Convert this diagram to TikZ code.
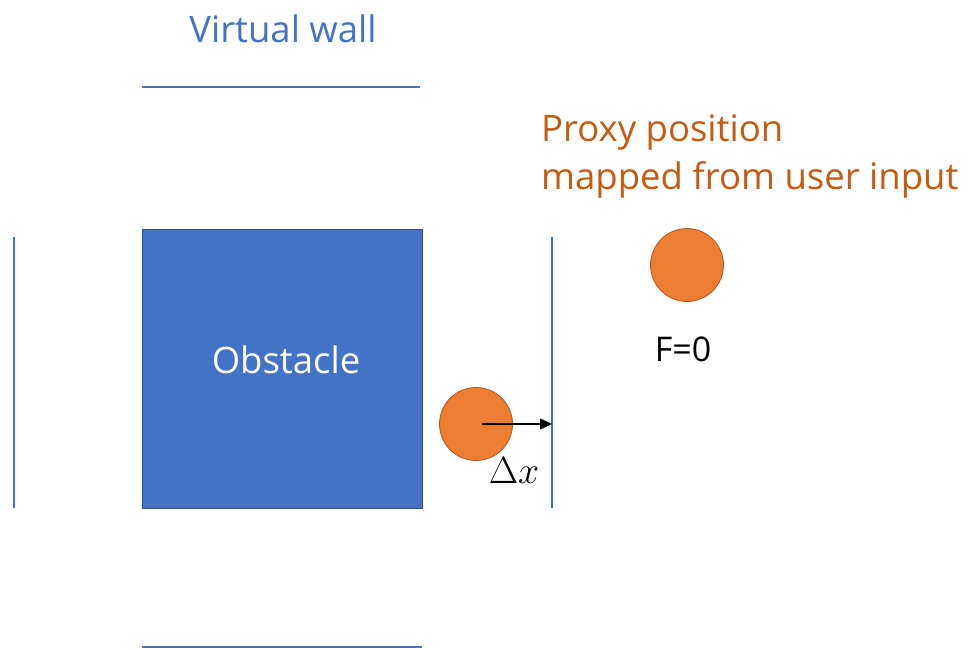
\documentclass[tikz,border=0pt]{standalone}
\usepackage{fix-cm}
\usepackage{fontspec}
\setmainfont{Open Sans}
\usetikzlibrary{arrows.meta}
\definecolor{wallblue}{HTML}{4472C4}
\definecolor{obsborder}{HTML}{2F528F}
\definecolor{ballorange}{HTML}{ED7D31}
\definecolor{ballborder}{HTML}{AE5A21}
\definecolor{txtorange}{HTML}{C55A11}
\tikzset{
  wall/.style={draw=wallblue, line width=1.5pt},
  ball/.style={circle, fill=ballorange, draw=ballborder, line width=0.8pt, minimum size=73pt, inner sep=0pt},
  lbl/.style={font=\fontsize{36.5}{48}\selectfont, inner sep=0pt, anchor=base}
}
\begin{document}
\begin{tikzpicture}[x=1pt,y=-1pt]
\useasboundingbox (0,0) rectangle (969,649);
% walls
\coordinate (tw1) at (142,87); \coordinate (tw2) at (420,87);
\coordinate (bw1) at (142,647); \coordinate (bw2) at (422,647);
\coordinate (lw1) at (14,237); \coordinate (lw2) at (14,508);
\coordinate (rw1) at (552,237); \coordinate (rw2) at (552,508);
\draw[wall] (tw1) -- (tw2);
\draw[wall] (bw1) -- (bw2);
\draw[wall] (lw1) -- (lw2);
\draw[wall] (rw1) -- (rw2);
% obstacle
\node[fill=wallblue, draw=obsborder, line width=0.8pt, minimum width=280pt, minimum height=279pt, inner sep=0pt] (obs) at (282,368.5) {};
\node[lbl, text=white] (obstxt) at (286,373) {Obstacle};
% balls
\node[ball] (b1) at (476,424) {};
\node[ball] (b2) at (687,265) {};
\coordinate (arrend) at (552,424);
\draw[-{Triangle[length=12pt,width=11pt]}, line width=1.2pt] (b1.center) ++(6,0) coordinate (arrstart) -- (arrend);
\node[inner sep=0pt, anchor=base, font=\fontsize{38}{44}\selectfont] (dx) at (514,483) {$\Delta x$};
\node[lbl, font=\fontsize{34}{40}\selectfont] (f0) at (683,361) {F=0};
\node[lbl, text=wallblue] (vw) at (283,42) {Virtual wall};
\node[lbl, text=txtorange, align=left, anchor=base west] (proxy) at (541,189) {Proxy position\\mapped from user input};
\end{tikzpicture}
\end{document}
